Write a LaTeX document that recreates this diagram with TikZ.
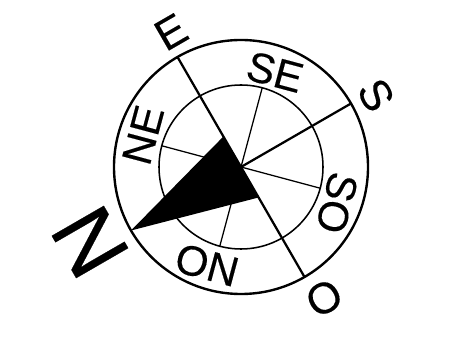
\documentclass[tikz,border=0pt]{standalone}
\usepackage{fontspec}
\setmainfont[FakeBold=0.3]{Liberation Sans}
\usepackage{xcolor}
\begin{document}
\begin{tikzpicture}[
    rim/.style={draw, circle, line width=1.7pt, minimum size=6.35cm, inner sep=0pt},
    hub/.style={draw, circle, line width=1.1pt, minimum size=4.1cm, inner sep=0pt},
    major/.style={line width=1.6pt},
    minor/.style={line width=0.9pt},
    wind/.style={font=\fontsize{31pt}{31pt}\selectfont, inner sep=0pt},
    halfwind/.style={font=\fontsize{30pt}{30pt}\selectfont, inner sep=0pt},
]

\useasboundingbox (-6.025,-4.55) rectangle (5.275,4.175);

\node[rim] (outer) at (0, 0) {};
\node[hub] (inner) at (0, 0) {};
\coordinate (centre) at (0, 0);

% spokes
\coordinate (tipE) at (120:3.175);
\coordinate (tipS) at (30:3.175);
\coordinate (tipO) at (-60:3.175);
\coordinate (tipN) at (210:3.175);
\coordinate (tipSE) at (75:2.05);
\coordinate (tipSO) at (-15:2.05);
\coordinate (tipON) at (255:2.05);
\coordinate (tipNE) at (165:2.05);
\coordinate (wingA) at (120:0.88);
\coordinate (wingB) at (-60:0.88);

\draw[major] (tipE) -- (tipO);
\draw[major] (centre) -- (tipS);
\draw[minor] (centre) -- (tipSE);
\draw[minor] (centre) -- (tipSO);
\draw[minor] (centre) -- (tipON);
\draw[minor] (centre) -- (tipNE);
\fill (tipN) -- (wingA) -- (wingB) -- cycle;

% labels
\node[wind, rotate=120, font=\fontsize{62pt}{62pt}\selectfont] (labN) at (-3.775, -1.875) {N};
\node[wind, rotate=30] (labE) at (-1.75, 3.375) {E};
\node[wind, rotate=-60] (labS) at (3.375, 1.8) {S};
\node[wind, rotate=-150] (labO) at (2.075, -3.275) {O};
\node[halfwind, rotate=75] (labNE) at (-2.45, 0.8) {NE};
\node[halfwind, rotate=-15] (labSE) at (0.85, 2.375) {SE};
\node[halfwind, rotate=-105] (labSO) at (2.4, -0.9) {SO};
\node[halfwind, rotate=-15] (labON) at (-0.85, -2.45) {ON};

\end{tikzpicture}
\end{document}
